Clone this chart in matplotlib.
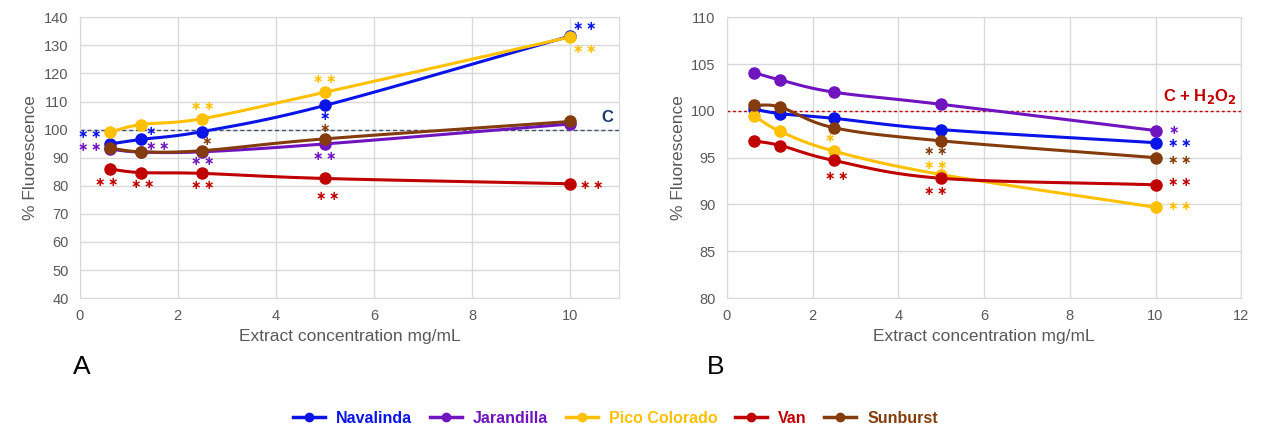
import numpy as np
import matplotlib.pyplot as plt
from matplotlib.lines import Line2D

plt.rcParams['font.family'] = ['Liberation Sans', 'DejaVu Sans']

conc = [0.625, 1.25, 2.5, 5, 10]
names = ['Navalinda', 'Jarandilla', 'Pico Colorado', 'Van', 'Sunburst']
colors = ['#0A14E6', '#7014C0', '#FFC000', '#C00000', '#843C0C']

# panel A: extract alone
fluo_a = {
    'Navalinda':     [94.9, 96.5, 99.3, 108.6, 133.3],
    'Jarandilla':    [93.0, 92.0, 92.1, 94.9, 102.0],
    'Pico Colorado': [99.2, 101.8, 103.9, 113.3, 133.0],
    'Van':           [85.9, 84.7, 84.4, 82.6, 80.7],
    'Sunburst':      [93.4, 92.1, 92.5, 96.7, 102.9],
}
# panel B: extract + H2O2
fluo_b = {
    'Navalinda':     [100.2, 99.7, 99.2, 98.0, 96.6],
    'Jarandilla':    [104.1, 103.3, 102.0, 100.7, 97.9],
    'Pico Colorado': [99.5, 97.8, 95.7, 93.2, 89.7],
    'Van':           [96.8, 96.3, 94.7, 92.8, 92.1],
    'Sunburst':      [100.6, 100.4, 98.2, 96.8, 95.0],
}

# significance marks: (series, x, y, text)
stars_a = [
    ('Navalinda', 10.05, 136.8, '**'), ('Pico Colorado', 10.05, 128.6, '**'),
    ('Pico Colorado', 5, 117.9, '**'), ('Pico Colorado', 2.5, 108.2, '**'),
    ('Navalinda', 5, 104.8, '*'), ('Sunburst', 5, 100.4, '*'),
    ('Sunburst', 2.6, 95.9, '*'), ('Jarandilla', 5, 90.4, '**'),
    ('Jarandilla', 2.5, 88.8, '**'), ('Navalinda', 1.44, 99.2, '*'),
    ('Jarandilla', 1.6, 94.1, '**'), ('Navalinda', 0.21, 98.1, '**'),
    ('Jarandilla', 0.21, 93.7, '**'), ('Van', 0.55, 81.2, '**'),
    ('Van', 1.28, 80.5, '**'), ('Van', 2.5, 80.0, '**'),
    ('Van', 5.05, 76.2, '**'), ('Van', 10.2, 80.2, '**'),
]
stars_b = [
    ('Jarandilla', 10.3, 97.9, '*'), ('Navalinda', 10.3, 96.55, '**'),
    ('Sunburst', 10.3, 94.7, '**'), ('Van', 10.3, 92.3, '**'),
    ('Pico Colorado', 10.3, 89.8, '**'), ('Pico Colorado', 2.4, 97.0, '*'),
    ('Van', 2.56, 92.95, '**'), ('Sunburst', 4.87, 95.67, '**'),
    ('Pico Colorado', 4.87, 94.15, '**'), ('Van', 4.87, 91.4, '**'),
]

col = dict(zip(names, colors))


def smooth(x, y, sx, sy, n=30):
    # Catmull-Rom curve through the points (drawing only), in scaled coords
    p = np.column_stack([np.asarray(x) / sx, np.asarray(y) / sy])
    p = np.vstack([2 * p[0] - p[1], p, 2 * p[-1] - p[-2]])
    out = []
    t = np.linspace(0, 1, n)[:, None]
    for i in range(1, len(p) - 2):
        p0, p1, p2, p3 = p[i - 1], p[i], p[i + 1], p[i + 2]
        c = 0.5 * ((2 * p1) + (-p0 + p2) * t + (2 * p0 - 5 * p1 + 4 * p2 - p3) * t ** 2
                   + (-p0 + 3 * p1 - 3 * p2 + p3) * t ** 3)
        out.append(c)
    c = np.vstack(out)
    return c[:, 0] * sx, c[:, 1] * sy


fig = plt.figure(figsize=(12.64, 4.32), dpi=100)
axA = fig.add_axes([0.063, 0.31, 0.427, 0.65])
axB = fig.add_axes([0.575, 0.31, 0.407, 0.65])

grid_c = '#D9D9D9'
text_c = '#595959'


def style(ax, xmax, ylim, yticks):
    ax.set_xlim(0, xmax)
    ax.set_ylim(*ylim)
    ax.set_xticks(np.arange(0, xmax + 0.1, 2))
    ax.set_yticks(yticks)
    ax.grid(True, color=grid_c, linewidth=1)
    ax.set_axisbelow(True)
    for s in ax.spines.values():
        s.set_color(grid_c)
    ax.tick_params(length=0, colors=text_c, labelsize=10.5, pad=8)
    ax.set_xlabel('Extract concentration mg/mL', fontsize=12.5, color=text_c)
    ax.set_ylabel('% Fluorescence', fontsize=12.5, color=text_c)


style(axA, 11, (40, 140), np.arange(40, 141, 10))
style(axB, 12, (80, 110), np.arange(80, 111, 5))

for ax, data, span in [(axA, fluo_a, (11, 100)), (axB, fluo_b, (12, 30))]:
    for nm in names:
        xs, ys = smooth(conc, data[nm], span[0], span[1])
        ax.plot(xs, ys, color=col[nm], linewidth=2.2, zorder=3)
        ax.plot(conc, data[nm], 'o', color=col[nm], markersize=8, zorder=4)

axA.axhline(100, color='#44546A', linestyle='--', linewidth=1, dashes=(3, 2), zorder=2)
axA.text(10.75, 101.5, 'C', color='#1F3864', fontsize=12, fontweight='bold',
         ha='center', va='bottom')
axB.axhline(100, color='#C00000', linestyle='--', linewidth=1, dashes=(2, 2), zorder=2)
axB.text(11.9, 100.5, 'C + H$_\\mathbf{2}$O$_\\mathbf{2}$', color='#C00000', fontsize=12,
         fontweight='bold', ha='right', va='bottom')

for ax, stars in [(axA, stars_a), (axB, stars_b)]:
    for nm, x, y, s in stars:
        mark = '\u2009'.join('\u2217' * len(s))
        ax.text(x, y, mark, color=col[nm], fontsize=9, family='DejaVu Sans',
                fontweight='bold', ha='left' if x > 10 else 'center',
                va='center', zorder=5)

fig.text(0.058, 0.135, 'A', fontsize=19)
fig.text(0.559, 0.135, 'B', fontsize=19)

handles = [Line2D([], [], color=c, marker='o', linewidth=2.5, markersize=6) for c in colors]
leg = fig.legend(handles, names, loc='center', bbox_to_anchor=(0.487, 0.032), ncol=5,
                 frameon=False, handlelength=2.0, columnspacing=1.1, handletextpad=0.7,
                 prop={'family': ['Liberation Sans Narrow', 'Liberation Sans'],
                       'weight': 'bold', 'size': 11.5})
for t, c in zip(leg.get_texts(), colors):
    t.set_color(c)

fig.savefig('out.png', dpi=100)
